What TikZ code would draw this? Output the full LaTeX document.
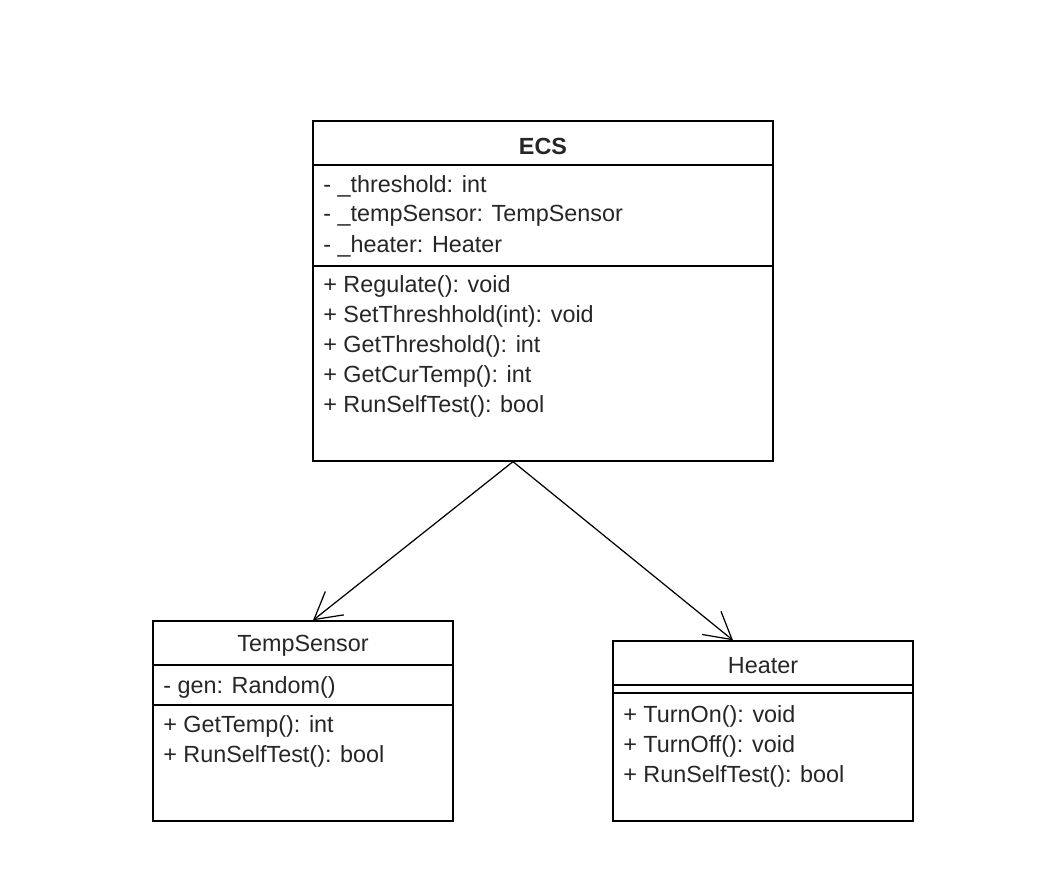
\documentclass[tikz,border=0pt]{standalone}
\usepackage{fontspec}
\setmainfont{Liberation Sans}
\usetikzlibrary{arrows.meta}
\tikzset{
  cls/.style={draw, line width=0.8pt, inner sep=0pt, fill=white},
  item/.style={anchor=west, inner sep=0pt, font=\fontsize{13.3}{15}\selectfont, text=black!85},
  ttl/.style={inner sep=0pt, font=\fontsize{13.3}{15}\selectfont, text=black!85},
  assoc/.style={-{Straight Barb[length=15pt,width=17pt,line width=0.7pt]}, line width=0.7pt},
}
\begin{document}
\begin{tikzpicture}[x=0.02cm,y=-0.02cm]
  \useasboundingbox (0,0) rectangle (1038,892);

  \node[cls, minimum width=9.2cm, minimum height=6.8cm] (ecs) at (543,291) {};
  \node[ttl, font=\fontsize{13.3}{15}\selectfont\bfseries] (ecsname) at (543,146) {ECS};
  \draw[line width=0.8pt] (313,165) -- (773,165);
  \node[item] (e1) at (323,186) {- \_threshold: int};
  \node[item] (e2) at (323,216) {- \_tempSensor: TempSensor};
  \node[item] (e3) at (323,246) {- \_heater: Heater};
  \draw[line width=0.8pt] (313,266) -- (773,266);
  \node[item] (e4) at (323,286) {+ Regulate(): void};
  \node[item] (e5) at (323,316) {+ SetThreshhold(int): void};
  \node[item] (e6) at (323,346) {+ GetThreshold(): int};
  \node[item] (e7) at (323,376) {+ GetCurTemp(): int};
  \node[item] (e8) at (323,406) {+ RunSelfTest(): bool};

  \node[cls, minimum width=6cm, minimum height=4cm] (ts) at (303,721) {};
  \node[ttl] (tsname) at (303,646) {TempSensor};
  \draw[line width=0.8pt] (153,665) -- (453,665);
  \node[item] (t1) at (163,687) {- gen: Random()};
  \draw[line width=0.8pt] (153,705) -- (453,705);
  \node[item] (t2) at (163,726) {+ GetTemp(): int};
  \node[item] (t3) at (163,756) {+ RunSelfTest(): bool};

  \node[cls, minimum width=6cm, minimum height=3.6cm] (ht) at (763,731) {};
  \node[ttl] (htname) at (763,666) {Heater};
  \draw[line width=0.8pt] (613,685) -- (913,685);
  \draw[line width=0.8pt] (613,693) -- (913,693);
  \node[item] (h1) at (623,716) {+ TurnOn(): void};
  \node[item] (h2) at (623,746) {+ TurnOff(): void};
  \node[item] (h3) at (623,776) {+ RunSelfTest(): bool};

  \draw[assoc] ([xshift=-30*0.02cm]ecs.south) -- ([xshift=10*0.02cm]ts.north);
  \draw[assoc] ([xshift=-30*0.02cm]ecs.south) -- ([xshift=-30*0.02cm]ht.north);
\end{tikzpicture}
\end{document}
